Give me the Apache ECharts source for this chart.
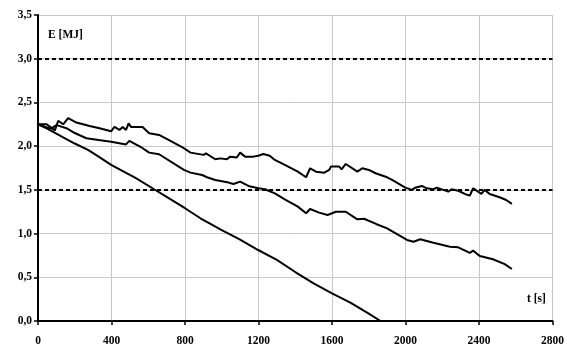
<!DOCTYPE html>
<html><head><meta charset="utf-8">
<script src="https://cdn.jsdelivr.net/npm/echarts@6/dist/echarts.min.js"></script>
<style>html,body{margin:0;padding:0;background:#fff}#c{width:567px;height:347px}</style>
</head><body><div id="c"></div>
<script>
// Top curve
const tTop = [0,47,92,110,137,164,209,281,335,398,416,443,461,479,493,506,569,605,659,713,794,830,836,902,914,965,992,1028,1046,1082,1100,1127,1172,1199,1226,1261,1289,1343,1414,1459,1481,1513,1558,1585,1594,1639,1652,1675,1738,1765,1801,1837,1900,1927,1999,2035,2053,2089,2116,2152,2170,2206,2233,2251,2287,2323,2350,2368,2395,2413,2431,2458,2512,2548,2579];
const eTop = [2.25,2.25,2.18,2.29,2.25,2.32,2.27,2.23,2.205,2.17,2.22,2.185,2.22,2.185,2.26,2.22,2.22,2.147,2.128,2.07,1.976,1.926,1.945,1.90,1.918,1.85,1.86,1.85,1.88,1.87,1.926,1.88,1.88,1.89,1.91,1.89,1.842,1.785,1.708,1.644,1.747,1.708,1.697,1.728,1.766,1.766,1.735,1.796,1.708,1.747,1.728,1.69,1.644,1.613,1.525,1.50,1.525,1.545,1.518,1.507,1.525,1.50,1.48,1.507,1.49,1.453,1.434,1.518,1.48,1.453,1.50,1.453,1.415,1.384,1.339];
// Middle curve
const tMid = [0,40,70,101,155,200,263,330,398,479,497,560,605,659,794,830,893,920,965,1037,1064,1100,1145,1199,1235,1289,1343,1414,1459,1481,1530,1576,1621,1675,1738,1774,1840,1900,2008,2044,2080,2152,2242,2287,2350,2368,2404,2476,2540,2579];
const eMid = [2.25,2.22,2.20,2.24,2.205,2.15,2.09,2.07,2.05,2.02,2.06,1.99,1.926,1.907,1.728,1.697,1.67,1.644,1.613,1.583,1.567,1.594,1.545,1.518,1.507,1.46,1.392,1.308,1.232,1.281,1.24,1.213,1.25,1.25,1.163,1.17,1.11,1.06,0.927,0.907,0.935,0.896,0.85,0.843,0.78,0.805,0.744,0.706,0.65,0.595];
// Bottom curve
const tBot = [0,50,137,200,272,330,398,533,632,700,800,884,1000,1100,1198,1300,1400,1500,1600,1700,1800,1864];
const eBot = [2.25,2.20,2.10,2.03,1.957,1.88,1.785,1.633,1.507,1.42,1.29,1.175,1.04,0.93,0.812,0.70,0.56,0.43,0.317,0.21,0.085,0.0];
// Reference levels
const refLevels = [3.0, 1.5];
const xTicks = {min:0, max:2800, interval:400};
const yTicks = {min:0, max:3.5, interval:0.5};

const zip = (a,b) => a.map((v,i)=>[v,b[i]]);
const font = '"Liberation Serif","Times New Roman",serif';
const lineS = (name, data, extra) => Object.assign({
  name, type:'line', data, showSymbol:false, symbol:'none', silent:true, animation:false,
  lineStyle:{color:'#000', width:2}
}, extra||{});

const chart = echarts.init(document.getElementById('c'), null, {renderer:'canvas'});
chart.setOption({
  animation:false,
  grid:{left:38, top:15, right:11, bottom:26, containLabel:false},
  xAxis:{type:'value', min:xTicks.min, max:xTicks.max, interval:xTicks.interval,
    axisLine:{show:true, onZero:false, lineStyle:{color:'#000', width:2}},
    axisTick:{show:true, length:4, lineStyle:{color:'#000', width:1.5}},
    axisLabel:{margin:14, color:'#000', fontFamily:font, fontWeight:'bold', fontSize:11.5,
      formatter:v=>String(v)},
    splitLine:{show:true, lineStyle:{color:'#c8c8c8', width:1}}},
  yAxis:{type:'value', min:yTicks.min, max:yTicks.max, interval:yTicks.interval,
    axisLine:{show:true, lineStyle:{color:'#000', width:2}},
    axisTick:{show:true, length:4, lineStyle:{color:'#000', width:1.5}},
    axisLabel:{margin:6, color:'#000', fontFamily:font, fontWeight:'bold', fontSize:11.5,
      formatter:v=>v.toFixed(1).replace('.',',')},
    splitLine:{show:true, lineStyle:{color:'#c8c8c8', width:1}}},
  graphic:[
    {type:'text', left:48, top:29, style:{text:'E [MJ]', fill:'#000', font:'bold 11.5px '+font}},
    {type:'text', left:527, top:293, style:{text:'t [s]', fill:'#000', font:'bold 11.5px '+font}}
  ],
  series:[
    lineS('top', zip(tTop,eTop), {z:3, markLine:{silent:true, symbol:'none', label:{show:false},
      lineStyle:{color:'#000', width:2, type:[4,3]}, data:refLevels.map(v=>({yAxis:v}))}}),
    lineS('mid', zip(tMid,eMid)),
    lineS('bot', zip(tBot,eBot))
  ]
});
</script></body></html>
